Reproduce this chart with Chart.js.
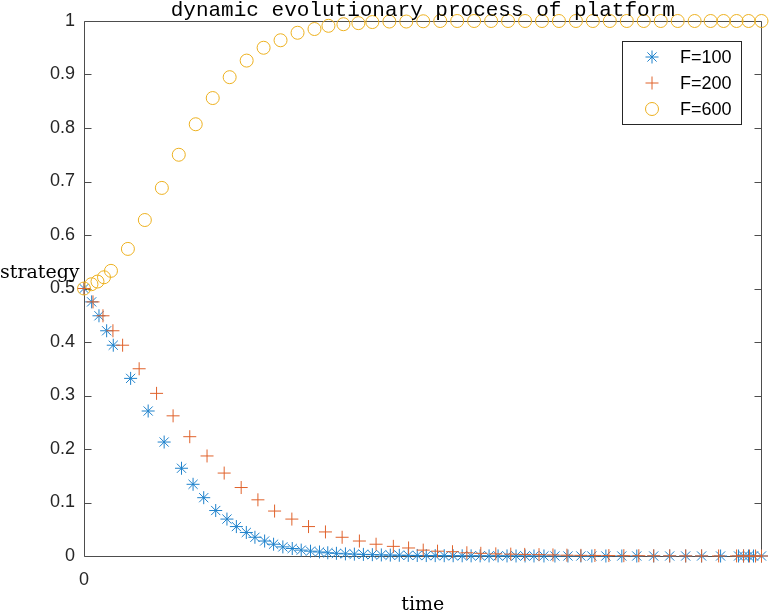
<!DOCTYPE html>
<html lang="en">
<head>
  <meta charset="UTF-8">
  <title>dynamic evolutionary process of platform</title>
  <script src="https://cdn.jsdelivr.net/npm/chart.js"></script>
  <style>
    body { margin: 0; background: #fff; }
    #wrap { width: 769px; height: 613px; }
  </style>
</head>
<body>
  <div id="wrap">
    <canvas id="evoChart" width="769" height="613"></canvas>
  </div>

  <script>
    // datos (tiempo en unidades arbitrarias 0..10)
    const seriesLabels = ['F=100', 'F=200', 'F=600'];
    const yTicks = [0, 0.1, 0.2, 0.3, 0.4, 0.5, 0.6, 0.7, 0.8, 0.9, 1];
    const xTicks = [0];

    const tF100 = [0, 0.113, 0.221, 0.334, 0.432, 0.688, 0.947, 1.183, 1.439, 1.610, 1.767, 1.944,
      2.110, 2.249, 2.396, 2.523, 2.666, 2.798, 2.935, 3.074, 3.206, 3.343, 3.476, 3.598,
      3.726, 3.859, 3.991, 4.124, 4.256, 4.389, 4.521, 4.654, 4.786, 4.919, 5.052, 5.184,
      5.317, 5.449, 5.582, 5.714, 5.847, 5.979, 6.112, 6.244, 6.377, 6.510, 6.642, 6.789,
      6.951, 7.143, 7.334, 7.496, 7.703, 7.938, 8.159, 8.409, 8.645, 8.881, 9.116, 9.396,
      9.661, 9.735, 9.808, 9.882, 10];
    const yF100 = [0.5, 0.475, 0.449, 0.421, 0.394, 0.332, 0.271, 0.213, 0.164, 0.134, 0.109, 0.085,
      0.069, 0.055, 0.044, 0.035, 0.028, 0.022, 0.017, 0.014, 0.011, 0.009, 0.0075, 0.006,
      0.005, 0.004, 0.0035, 0.003, 0.0025, 0.002, 0.0017, 0.0014, 0.0012, 0.001, 0.0008, 0.0007,
      0.0006, 0.0005, 0.0004, 0.0003, 0.0003, 0.0002, 0.0002, 0.0002, 0.0001, 0.0001, 0.0001, 0.0001,
      0, 0, 0, 0, 0, 0, 0, 0, 0, 0, 0, 0,
      0, 0, 0, 0, 0];

    const tF200 = [0, 0.133, 0.280, 0.427, 0.570, 0.814, 1.071, 1.315, 1.561, 1.816, 2.069, 2.320,
      2.567, 2.813, 3.068, 3.314, 3.564, 3.810, 4.065, 4.311, 4.566, 4.791, 5.007, 5.218,
      5.439, 5.651, 5.857, 6.078, 6.299, 6.505, 6.716, 6.922, 7.128, 7.334, 7.541, 7.747,
      7.968, 8.189, 8.409, 8.645, 8.881, 9.116, 9.367, 9.632, 9.735, 9.823, 9.912, 10];
    const yF200 = [0.5, 0.475, 0.449, 0.421, 0.394, 0.350, 0.304, 0.262, 0.223, 0.187, 0.155, 0.128,
      0.105, 0.084, 0.069, 0.055, 0.045, 0.035, 0.028, 0.022, 0.018, 0.015, 0.011, 0.009,
      0.008, 0.006, 0.005, 0.004, 0.0035, 0.003, 0.0025, 0.002, 0.0015, 0.0012, 0.001, 0.0008,
      0.0006, 0.0005, 0.0004, 0.0003, 0.0002, 0.0002, 0.0001, 0.0001, 0.0001, 0, 0, 0];

    const tF600 = [0, 0.110, 0.199, 0.295, 0.398, 0.648, 0.898, 1.149, 1.399, 1.649, 1.900, 2.150,
      2.401, 2.651, 2.901, 3.152, 3.402, 3.608, 3.829, 4.050, 4.256, 4.507, 4.757, 5.007,
      5.258, 5.508, 5.758, 6.009, 6.259, 6.510, 6.760, 7.010, 7.261, 7.511, 7.761, 8.012,
      8.262, 8.513, 8.763, 9.013, 9.249, 9.440, 9.632, 9.809, 10];
    const yF600 = [0.500, 0.508, 0.513, 0.521, 0.533, 0.574, 0.628, 0.688, 0.750, 0.807, 0.856, 0.895,
      0.926, 0.950, 0.964, 0.978, 0.985, 0.991, 0.994, 0.996, 0.998, 0.999, 0.999, 0.9995,
      1, 1, 1, 1, 1, 1, 1, 1, 1, 1, 1, 1,
      1, 1, 1, 1, 1, 1, 1, 1, 1];

    const colors = ['#1f82cc', '#e0622b', '#edb120'];
    const markers = ['star', 'cross', 'circle'];

    function toPoints(ts, ys) {
      return ts.map((t, i) => ({ x: t, y: ys[i] }));
    }

    // ejes tipo MATLAB, titulo, etiquetas y leyenda
    const matlabDecor = {
      id: 'matlabDecor',
      beforeDatasetsDraw(chart) {
        const { ctx, chartArea: a, scales: { y } } = chart;
        const L = Math.round(a.left) + 0.5, R = Math.round(a.right) - 0.5;
        const T = Math.round(a.top) + 0.5, B = Math.round(a.bottom) + 0.5;
        ctx.save();
        ctx.strokeStyle = '#4d4d4d';
        ctx.lineWidth = 1;
        ctx.beginPath();
        ctx.moveTo(L, T); ctx.lineTo(R, T); ctx.lineTo(R, B); ctx.lineTo(L, B); ctx.closePath();
        y.ticks.forEach(tk => {
          const py = Math.round(y.getPixelForValue(tk.value)) + 0.5;
          ctx.moveTo(L, py); ctx.lineTo(L + 7, py);
          ctx.moveTo(R, py); ctx.lineTo(R - 7, py);
        });
        ctx.stroke();
        ctx.restore();
      },
      afterDraw(chart) {
        const { ctx, chartArea: a } = chart;
        const cx = (a.left + a.right) / 2;
        ctx.save();
        ctx.fillStyle = '#000';
        ctx.font = '21px "Liberation Mono", monospace';
        ctx.textAlign = 'center';
        ctx.textBaseline = 'alphabetic';
        ctx.fillText('dynamic evolutionary process of platform', cx, 16);

        ctx.font = '19px "DejaVu Serif", serif';
        ctx.fillText('time', cx, 610);
        ctx.textAlign = 'left';
        ctx.fillText('strategy', 0, 278);

        // leyenda
        const bx = 622.5, by = 41.5, bw = 119, bh = 83;
        ctx.fillStyle = '#fff';
        ctx.fillRect(bx, by, bw, bh);
        ctx.strokeStyle = '#262626';
        ctx.lineWidth = 1;
        ctx.strokeRect(bx, by, bw, bh);
        ctx.font = '18px "Liberation Sans", Arial, sans-serif';
        ctx.textBaseline = 'middle';
        chart.data.datasets.forEach((ds, i) => {
          const ly = 57 + i * 26;
          ctx.strokeStyle = ds.borderColor;
          ctx.fillStyle = 'rgba(0,0,0,0)';
          ctx.lineWidth = 1;
          Chart.helpers.drawPoint(ctx, { pointStyle: ds.pointStyle, radius: 6.5, rotation: 0, borderWidth: 1 }, 652, ly);
          ctx.fillStyle = '#000';
          ctx.fillText(ds.label, 680, ly + 1);
        });
        ctx.restore();
      }
    };

    const ctx = document.getElementById('evoChart').getContext('2d');
    const evoChart = new Chart(ctx, {
      type: 'scatter',
      data: {
        datasets: [
          { label: seriesLabels[0], data: toPoints(tF100, yF100), order: 2 },
          { label: seriesLabels[1], data: toPoints(tF200, yF200), order: 1 },
          { label: seriesLabels[2], data: toPoints(tF600, yF600), order: 0 }
        ].map((ds, i) => Object.assign(ds, {
          pointStyle: markers[i],
          borderColor: colors[i],
          backgroundColor: 'rgba(0,0,0,0)',
          pointRadius: 6.5,
          pointBorderWidth: 1,
          clip: false
        }))
      },
      options: {
        responsive: false,
        animation: false,
        layout: { padding: { top: 21, right: 6, left: 0, bottom: 0 } },
        plugins: {
          legend: { display: false },
          tooltip: { enabled: false }
        },
        scales: {
          x: {
            type: 'linear',
            min: 0,
            max: 10,
            afterFit: s => { s.height = 57; },
            afterBuildTicks: s => { s.ticks = xTicks.map(v => ({ value: v })); },
            grid: { display: false, drawTicks: false },
            border: { display: false },
            ticks: {
              padding: 13,
              color: '#262626',
              font: { family: '"Liberation Sans", Arial, sans-serif', size: 18 },
              callback: v => String(v)
            }
          },
          y: {
            min: 0,
            max: 1,
            afterFit: s => { s.width = 84; },
            afterBuildTicks: s => { s.ticks = yTicks.map(v => ({ value: v })); },
            grid: { display: false, drawTicks: false },
            border: { display: false },
            ticks: {
              padding: 9,
              color: '#262626',
              font: { family: '"Liberation Sans", Arial, sans-serif', size: 18 },
              callback: v => (v === 0 || v === 1) ? String(v) : v.toFixed(1)
            }
          }
        }
      },
      plugins: [matlabDecor]
    });
  </script>
</body>
</html>
